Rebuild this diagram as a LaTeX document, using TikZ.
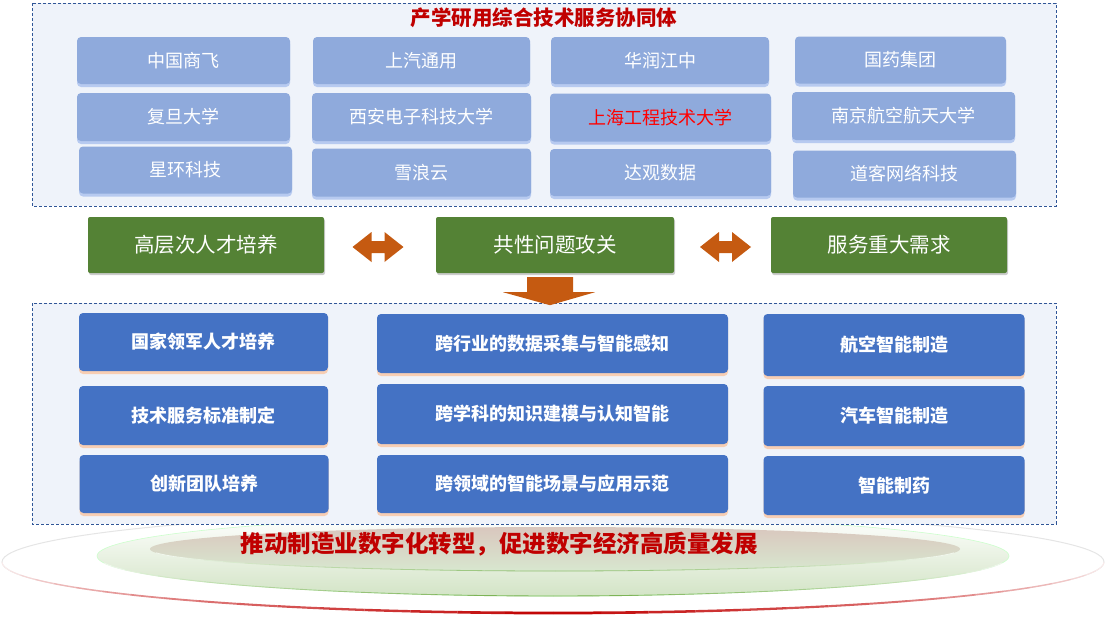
\documentclass[tikz,border=0pt]{standalone}
\usepackage{fontspec}
\setmainfont{Noto Sans CJK SC}
\usetikzlibrary{shadows,calc}
\definecolor{lb}{HTML}{8FAADC}
\definecolor{lbs}{HTML}{A9C0EE}
\definecolor{db}{HTML}{4472C4}
\definecolor{dbs}{HTML}{F8CBAD}
\definecolor{gr}{HTML}{548235}
\definecolor{arr}{HTML}{C55A11}
\definecolor{dred}{HTML}{C00000}
\definecolor{panel}{HTML}{EFF3FA}
\definecolor{dash}{HTML}{2F5597}
\definecolor{lgreen}{HTML}{70AD47}
\definecolor{ellg}{HTML}{D3E4C6}
\definecolor{ellp}{HTML}{D9C7BE}
\definecolor{ellq}{HTML}{D8E7CF}
\definecolor{pure}{HTML}{FF0000}
\tikzset{
  sz/.style 2 args={minimum width=#1, minimum height=#2},
  panelbox/.style={draw=dash, fill=panel, dash pattern=on 3pt off 2pt, line width=0.8pt},
  lbox/.style={fill=lb, rounded corners=4pt, text=white, inner sep=0pt,
    font=\fontsize{18}{20}\selectfont,
    drop shadow={shadow xshift=0pt, shadow yshift=-3pt, fill=lbs, opacity=0.8}},
  gbox/.style={fill=gr, rounded corners=2pt, text=white, inner sep=0pt,
    font=\fontsize{20.5}{22}\selectfont,
    drop shadow={shadow xshift=1pt, shadow yshift=-2pt, fill=black, opacity=0.2}},
  dbox/.style={fill=db, rounded corners=4pt, text=white, inner sep=0pt,
    font=\bfseries\fontsize{18}{20}\selectfont,
    drop shadow={shadow xshift=0pt, shadow yshift=-3pt, fill=dbs, opacity=0.9}},
  arrowshape/.style={fill=arr, draw=none},
  titletext/.style={text=dred, font=\bfseries\fontsize{20.5}{22}\selectfont, inner sep=0pt},
}
\begin{document}
\begin{tikzpicture}[x=1pt,y=-1pt]
\useasboundingbox (0,0) rectangle (1106,635);

% ---- bottom ellipses ----
\fill[white] (553,562) ellipse [x radius=551, y radius=51];
\draw[gray!20, line width=1pt] (553,562) ellipse [x radius=551, y radius=51];
\foreach \a in {0,5,...,175}{
  \pgfmathsetmacro{\k}{max(8,100-abs(\a+2.5-90)*1.15)}
  \pgfmathsetmacro{\w}{0.8+2.0*\k/100}
  \draw[dred!\k!white, line width=\w pt] (553,562) ++(\a:551 and 51)
     arc[start angle=\a, end angle=\a+5, x radius=551, y radius=51];
}

\shade[top color=white, bottom color=ellg] (553,556) ellipse [x radius=456, y radius=40];
\draw[green!20!white, line width=0.6pt] (553,556) ellipse [x radius=456, y radius=40];
\foreach \a in {10,15,...,165}{
  \pgfmathsetmacro{\k}{max(10,100-abs(\a+2.5-90)*1.2)}
  \draw[lgreen!\k!white, line width=0.9pt] (553,556) ++(\a:456 and 40)
     arc[start angle=\a, end angle=\a+5, x radius=456, y radius=40];
}

\shade[top color=ellp, bottom color=ellq] (555,549) ellipse [x radius=405, y radius=22];
\foreach \a in {10,15,...,165}{
  \pgfmathsetmacro{\k}{max(10,80-abs(\a+2.5-90)*1.0)}
  \draw[lgreen!\k!white, line width=0.8pt] (555,549) ++(\a:405 and 22)
     arc[start angle=\a, end angle=\a+5, x radius=405, y radius=22];
}

% ---- panels ----
\draw[panelbox] (32,3) rectangle (1056,206);
\draw[panelbox] (32,303) rectangle (1056,524);

% ---- title ----
\node[titletext] (title) at (544,18) {产学研用综合技术服务协同体};

% ---- light boxes ----
\node[lbox, sz={213pt}{47pt}] (a11) at (183.5,60.5) {中国商飞};
\node[lbox, sz={217pt}{47pt}] (a12) at (421.5,60.5) {上汽通用};
\node[lbox, sz={218pt}{47pt}] (a13) at (660,60.5) {华润江中};
\node[lbox, sz={211pt}{47pt}] (a14) at (900.5,60) {国药集团};

\node[lbox, sz={213pt}{48pt}] (a21) at (183.5,117) {复旦大学};
\node[lbox, sz={219pt}{48pt}] (a22) at (421.5,117) {西安电子科技大学};
\node[lbox, sz={221pt}{48pt}, text=pure] (a23) at (660.5,117.5) {上海工程技术大学};
\node[lbox, sz={223pt}{48pt}] (a24) at (903.5,116) {南京航空航天大学};

\node[lbox, sz={213pt}{47pt}] (a31) at (185.5,170) {星环科技};
\node[lbox, sz={219pt}{48pt}] (a32) at (421.5,172.5) {雪浪云};
\node[lbox, sz={221pt}{47pt}] (a33) at (660.5,172.5) {达观数据};
\node[lbox, sz={223pt}{47pt}] (a34) at (904.5,174) {道客网络科技};

% ---- green boxes ----
\node[gbox, sz={236pt}{56pt}] (g1) at (206,245) {高层次人才培养};
\node[gbox, sz={238pt}{56pt}] (g2) at (555,245) {共性问题攻关};
\node[gbox, sz={236pt}{56pt}] (g3) at (889,245) {服务重大需求};

% ---- double arrows ----
\coordinate (m1) at ($(g1.east)!0.5!(g2.west)+(-2,2)$);
\coordinate (m2) at ($(g2.east)!0.5!(g3.west)+(3,2)$);
\foreach \m in {m1,m2}{
  \fill[arrowshape] (\m) ++(-25.5,0) -- ++(19,-15) -- ++(0,9) -- ++(13,0) -- ++(0,-9)
     -- ++(19,15) -- ++(-19,15) -- ++(0,-9) -- ++(-13,0) -- ++(0,9) -- cycle;
}
% ---- down arrow ----
\coordinate (d0) at ($(g2.south)+(-5,4)$);
\fill[arrowshape] (d0) ++(-23,0) -- ++(46,0) -- ++(0,15) -- ++(22,0) -- ++(-45,13)
   -- ++(-47,-13) -- ++(24,0) -- cycle;

% ---- dark boxes ----
\node[dbox, sz={249pt}{58pt}] (b11) at (203.5,342) {国家领军人才培养};
\node[dbox, sz={249pt}{59pt}] (b21) at (203.5,415.5) {技术服务标准制定};
\node[dbox, sz={249pt}{58pt}] (b31) at (204,484) {创新团队培养};

\node[dbox, sz={351pt}{59pt}] (b12) at (552.5,343.5) {跨行业的数据采集与智能感知};
\node[dbox, sz={351pt}{60pt}] (b22) at (552.5,414) {跨学科的知识建模与认知智能};
\node[dbox, sz={351pt}{58pt}] (b32) at (552.5,484) {跨领域的智能场景与应用示范};

\node[dbox, sz={261pt}{62pt}] (b13) at (894,345) {航空智能制造};
\node[dbox, sz={261pt}{60pt}] (b23) at (894,416) {汽车智能制造};
\node[dbox, sz={261pt}{59pt}] (b33) at (894,485.5) {智能制药};

% ---- bottom slogan ----
\node[titletext, font=\bfseries\fontsize{23.5}{25}\selectfont] (slogan) at (499,544) {推动制造业数字化转型，促进数字经济高质量发展};
\end{tikzpicture}
\end{document}
